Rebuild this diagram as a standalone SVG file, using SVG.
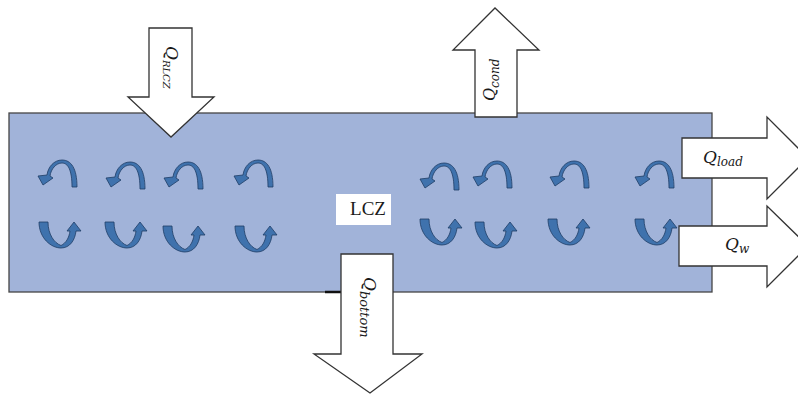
<svg xmlns="http://www.w3.org/2000/svg" width="798" height="394" viewBox="0 0 798 394">
<style>
.zone{fill:#a1b3d9;stroke:#454545;stroke-width:1.3}
.arr{fill:#ffffff;stroke:#333333;stroke-width:1.3;stroke-linejoin:miter}
.curl{fill:#3f72ad;stroke:#1f3d66;stroke-width:0.8;stroke-linejoin:round}
.q{font-family:"DejaVu Serif","Liberation Serif",serif;font-style:italic;fill:#1a1a1a}
.lbl{font-family:"Liberation Serif","Times New Roman",serif;fill:#1a1a1a;font-size:19px}
</style>
<defs>
<path id="top" class="curl" d="M40,27 C40,8 34,0 25,0 C17,0 11,7 10,15 L1,16 L6,25 L16,18 L13,16 C14,9 19,3 25,3 C31,3 35,10 35,27 Z"/>
<path id="bot" class="curl" d="M0,0 L9,0 C9,12 15,21 22,23.5 C27,21 30,16 31,9 L28,9 L35,0 L42,9 L37,9 C36,18 31,26 22,26 C12,26 0,16 0,0 Z"/>
</defs>
<g id="lcz-zone">
<rect class="zone" x="9" y="113" width="703" height="179"/>
</g>
<g id="vortices">
<use href="#top" x="37" y="160"/>
<use href="#top" x="105" y="162"/>
<use href="#top" x="163" y="162"/>
<use href="#top" x="233" y="160"/>
<use href="#top" x="419" y="163"/>
<use href="#top" x="472" y="161"/>
<use href="#top" x="549" y="161"/>
<use href="#top" x="634" y="161"/>
<use href="#bot" x="39" y="222"/>
<use href="#bot" x="105" y="222"/>
<use href="#bot" x="163" y="226"/>
<use href="#bot" x="235" y="226"/>
<use href="#bot" x="420" y="219"/>
<use href="#bot" x="475" y="222"/>
<use href="#bot" x="548" y="219"/>
<use href="#bot" x="635" y="219"/>
</g>
<g id="connectors">
<line x1="325" y1="292" x2="341" y2="292" stroke="#111" stroke-width="2.5"/>
</g>
<g id="q-rlcz">
<polygon class="arr" points="149,28 192,28 192,97 214,97 171,137 128,97 149,97"/>
<text class="q" transform="translate(166,46) rotate(90)" font-size="17">Q<tspan font-size="10" dy="3">RLCZ</tspan></text>
</g>
<g id="q-cond">
<polygon class="arr" points="475,117 475,50 453,50 495,8 539,50 517,50 517,117"/>
<text class="q" transform="translate(495,101) rotate(-90)" font-size="16">Q<tspan font-size="12" dy="4">cond</tspan></text>
</g>
<g id="q-bottom">
<polygon class="arr" points="341,254 393,254 393,354 422,354 370,393 314,354 341,354"/>
<text class="q" transform="translate(364,277) rotate(90)" font-size="17">Q<tspan font-size="13" dy="4">bottom</tspan></text>
</g>
<g id="q-load">
<polygon class="arr" points="682,138 767,138 767,117 808,158 767,199 767,178 682,178"/>
<text class="q" x="703" y="163" font-size="17">Q<tspan font-size="12" dy="3">load</tspan></text>
</g>
<g id="q-w">
<polygon class="arr" points="679,226 767,226 767,206 808,246 767,287 767,266 679,266"/>
<text class="q" x="725" y="250" font-size="17">Q<tspan font-size="12" dy="3">w</tspan></text>
</g>
<g id="lcz-label">
<rect x="336" y="194" width="55" height="31" fill="#ffffff"/>
<text class="lbl" x="368" y="215" text-anchor="middle">LCZ</text>
</g>
</svg>
